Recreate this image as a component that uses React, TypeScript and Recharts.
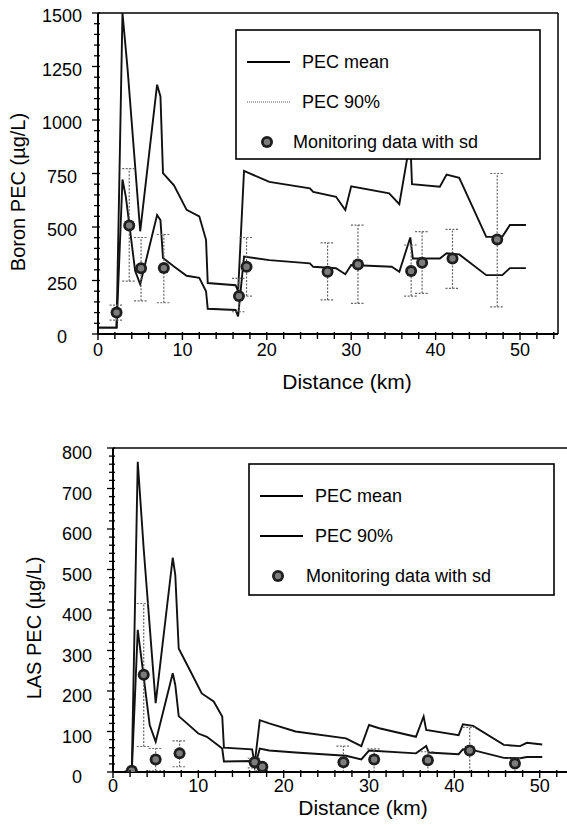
import {
  ComposedChart,
  Line,
  Scatter,
  ErrorBar,
  XAxis,
  YAxis,
  ReferenceLine,
  Legend,
} from "recharts";

const FONT = '"Liberation Sans", Arial, Helvetica, sans-serif';

// ---- Boron (top panel) ----
const boron90Km = [0, 2.2, 2.9, 3.5, 5.0, 7.0, 7.4, 7.7, 9.0, 10.5, 12.0, 12.8, 13.0, 16.3, 16.6, 17.3, 20.3, 25.1, 25.5, 28.2, 29.3, 30.0, 34.5, 35.7, 37.0, 37.2, 40.5, 41.3, 42.8, 46.0, 47.9, 48.8, 50.7];
const boron90 = [30, 30, 1500, 1240, 480, 1165, 1110, 752, 695, 580, 550, 440, 238, 228, 200, 762, 711, 681, 664, 641, 579, 690, 657, 607, 906, 700, 688, 745, 730, 454, 454, 509, 509];

const boronMeanKm = [0, 2.2, 2.9, 3.3, 4.4, 5.0, 7.0, 7.4, 7.7, 9.0, 10.5, 12.0, 12.8, 13.0, 16.3, 16.6, 17.3, 20.3, 25.1, 25.5, 28.2, 29.3, 30.0, 34.8, 35.7, 37.0, 37.3, 40.5, 41.3, 42.8, 46.0, 47.9, 48.8, 50.7];
const boronMean = [30, 30, 722, 641, 295, 232, 556, 532, 355, 315, 272, 262, 200, 118, 112, 82, 362, 345, 330, 314, 307, 279, 322, 314, 291, 451, 353, 353, 377, 372, 275, 275, 308, 308];

const boronMonKm = [2.2, 3.7, 5.1, 7.8, 16.7, 17.6, 27.2, 30.8, 37.1, 38.4, 42.0, 47.3];
const boronMon = [100, 507, 307, 308, 177, 314, 291, 325, 294, 333, 353, 442];
const boronSdLow = [35, 260, 152, 162, 73, 137, 132, 182, 117, 143, 140, 315];
const boronSdHigh = [35, 266, 144, 157, 83, 137, 135, 184, 122, 145, 136, 308];

// ---- LAS (bottom panel) ----
const las90Km = [0, 2.2, 2.9, 3.6, 5.0, 7.0, 7.3, 7.7, 9.0, 10.4, 11.8, 12.8, 13.0, 16.3, 16.6, 17.2, 18.3, 21.4, 27.3, 29.1, 30.0, 31.2, 35.5, 36.4, 36.7, 40.5, 41.0, 42.2, 45.8, 47.7, 48.5, 50.3];
const las90 = [0, 0, 766, 550, 170, 529, 486, 305, 252, 194, 174, 137, 60, 56, 20, 128, 120, 100, 83, 64, 116, 108, 87, 137, 104, 91, 118, 114, 67, 64, 72, 68];

const lasMeanKm = [0, 2.2, 2.9, 3.3, 4.3, 5.0, 7.0, 7.3, 7.7, 10.0, 11.0, 12.0, 12.8, 13.0, 16.3, 16.6, 17.2, 18.3, 21.4, 27.3, 29.1, 30.0, 35.5, 36.7, 37.0, 40.5, 41.0, 42.2, 45.8, 47.7, 48.5, 50.3];
const lasMean = [0, 0, 351, 285, 116, 75, 244, 215, 138, 95, 87, 71, 58, 26, 27, 10, 58, 53, 48, 40, 31, 53, 46, 64, 48, 44, 56, 54, 35, 34, 37, 37];

const lasMonKm = [2.2, 3.6, 5.0, 7.8, 16.6, 17.5, 27.0, 30.6, 36.9, 41.8, 47.1];
const lasMon = [3, 240, 31, 46, 24, 13, 24, 31, 29, 53, 21];
const lasSdLow = [0, 177, 28, 33, 14, 10, 24, 31, 29, 53, 21];
const lasSdHigh = [0, 176, 27, 31, 10, 5, 40, 26, 21, 57, 13];

// ticks (minor + major)
const xTicksTop = [0, 2, 4, 6, 8, 10, 12, 14, 16, 18, 20, 22, 24, 26, 28, 30, 32, 34, 36, 38, 40, 42, 44, 46, 48, 50, 52, 54];
const xTicksBottom = [0, 2, 4, 6, 8, 10, 12, 14, 16, 18, 20, 22, 24, 26, 28, 30, 32, 34, 36, 38, 40, 42, 44, 46, 48, 50, 52];
const boronYTicks = Array.from({ length: 31 }, (_, i) => i * 50);
const lasYTicks = Array.from({ length: 41 }, (_, i) => i * 20);

const toPts = (km: number[], v: number[]) => km.map((x, i) => ({ x, y: v[i] }));
const toMon = (km: number[], v: number[], lo: number[], hi: number[]) =>
  km.map((x, i) => ({ x, y: v[i], err: [lo[i], hi[i]] }));

function Marker(props: any) {
  const { cx, cy } = props;
  if (cx == null || cy == null) return null;
  return (
    <g>
      <circle cx={cx} cy={cy} r={6} fill="#1e1e1e" />
      <circle cx={cx} cy={cy} r={3.2} fill="#7c7c7c" />
    </g>
  );
}

function makeXTick(step: number, dy: number) {
  return (p: any) => {
    const { x, y, payload } = p;
    const major = payload.value % step === 0;
    return (
      <g>
        <line x1={x} x2={x} y1={y - 2} y2={y + (major ? 6 : 5)} stroke="#000" strokeWidth={1.4} />
        {major && (
          <text x={x} y={y + dy} textAnchor="middle" dominantBaseline="central" fontSize={18} fill="#000" fontFamily={FONT}>
            {payload.value}
          </text>
        )}
      </g>
    );
  };
}

function makeYTick(step: number, dy: number) {
  return (p: any) => {
    const { x, y, payload } = p;
    const major = payload.value % step === 0;
    return (
      <g>
        <line x1={x - (major ? 6 : 4)} x2={x + 2} y1={y} y2={y} stroke="#000" strokeWidth={1.3} />
        {major && (
          <text x={x - 36} y={y + dy} textAnchor="middle" dominantBaseline="central" fontSize={18} fill="#000" fontFamily={FONT}>
            {payload.value}
          </text>
        )}
      </g>
    );
  };
}

function LegendBox({ dotted, w, h, tx, mx }: { dotted: boolean; w: number; h: number; tx: number; mx: number }) {
  return (
    <svg width={w} height={h} style={{ display: "block", fontFamily: FONT }}>
      <rect x={1} y={1} width={w - 2} height={h - 2} fill="#fff" stroke="#000" strokeWidth={1.6} />
      <line x1={12} x2={55} y1={33} y2={33} stroke="#000" strokeWidth={1.8} />
      <text x={tx} y={33} dominantBaseline="central" fontSize={18}>PEC mean</text>
      <line
        x1={12}
        x2={55}
        y1={73}
        y2={73}
        stroke={dotted ? "#555" : "#000"}
        strokeWidth={dotted ? 1.2 : 1.8}
        strokeDasharray={dotted ? "1 1" : undefined}
      />
      <text x={tx} y={73} dominantBaseline="central" fontSize={18}>PEC 90%</text>
      <Marker cx={mx} cy={113} />
      <text x={tx - 9} y={113} dominantBaseline="central" fontSize={18}>Monitoring data with sd</text>
    </svg>
  );
}

export default function App() {
  const b90 = toPts(boron90Km, boron90);
  const bMean = toPts(boronMeanKm, boronMean);
  const bMon = toMon(boronMonKm, boronMon, boronSdLow, boronSdHigh);
  const l90 = toPts(las90Km, las90);
  const lMean = toPts(lasMeanKm, lasMean);
  const lMon = toMon(lasMonKm, lasMon, lasSdLow, lasSdHigh);

  return (
    <div style={{ position: "absolute", left: 0, top: 0, width: 567, height: 825, background: "#fff", fontFamily: FONT }}>
      {/* Boron */}
      <div style={{ position: "absolute", left: 0, top: 0 }}>
        <ComposedChart width={567} height={400} margin={{ top: 13, right: 9, bottom: 0, left: 0 }}>
          <XAxis
            type="number"
            dataKey="x"
            domain={[0, 54.5]}
            ticks={xTicksTop}
            interval={0}
            tickSize={0}
            tickMargin={0}
            tickLine={false}
            tick={makeXTick(10, 16)}
            axisLine={{ stroke: "#000", strokeWidth: 2 }}
            height={66}
            allowDataOverflow
            label={() => (
              <text x={347} y={389} textAnchor="middle" fontSize={21} fill="#000" fontFamily={FONT}>
                Distance (km)
              </text>
            )}
          />
          <YAxis
            type="number"
            dataKey="y"
            domain={[0, 1500]}
            ticks={boronYTicks}
            interval={0}
            tickSize={0}
            tickMargin={0}
            tickLine={false}
            tick={makeYTick(250, 3)}
            axisLine={{ stroke: "#000", strokeWidth: 2 }}
            width={98}
            allowDataOverflow
            label={() => (
              <text x={25} y={192} transform="rotate(-90, 25, 192)" textAnchor="middle" fontSize={20} fill="#000" fontFamily={FONT}>
                Boron PEC (µg/L)
              </text>
            )}
          />
          <ReferenceLine y={1500} stroke="#000" strokeWidth={1.5} />
          <ReferenceLine x={54.5} stroke="#000" strokeWidth={1.5} />
          <Line data={b90} dataKey="y" type="linear" stroke="#111" strokeWidth={1.9} dot={false} isAnimationActive={false} />
          <Line data={bMean} dataKey="y" type="linear" stroke="#111" strokeWidth={1.9} dot={false} isAnimationActive={false} />
          <Scatter data={bMon} dataKey="y" shape={Marker} isAnimationActive={false}>
            <ErrorBar dataKey="err" direction="y" width={7} stroke="#666" strokeWidth={1.2} strokeDasharray="2 1.5" isAnimationActive={false} />
          </Scatter>
          <Legend
            layout="vertical"
            verticalAlign="middle"
            align="center"
            wrapperStyle={{ position: "absolute", left: 235, top: 29, width: 306, height: 131 }}
            content={() => <LegendBox dotted w={306} h={131} tx={67} mx={32} />}
          />
        </ComposedChart>
      </div>

      {/* LAS */}
      <div style={{ position: "absolute", left: 0, top: 425 }}>
        <ComposedChart width={567} height={400} margin={{ top: 23, right: 0, bottom: 0, left: 0 }}>
          <XAxis
            type="number"
            dataKey="x"
            domain={[0, 53.2]}
            ticks={xTicksBottom}
            interval={0}
            tickSize={0}
            tickMargin={0}
            tickLine={false}
            tick={makeXTick(10, 14)}
            axisLine={{ stroke: "#000", strokeWidth: 2 }}
            height={53}
            allowDataOverflow
            label={() => (
              <text x={363} y={390} textAnchor="middle" fontSize={21} fill="#000" fontFamily={FONT}>
                Distance (km)
              </text>
            )}
          />
          <YAxis
            type="number"
            dataKey="y"
            domain={[0, 800]}
            ticks={lasYTicks}
            interval={0}
            tickSize={0}
            tickMargin={0}
            tickLine={false}
            tick={makeYTick(100, 5)}
            axisLine={{ stroke: "#000", strokeWidth: 2 }}
            width={113}
            allowDataOverflow
            label={() => (
              <text x={41} y={203} transform="rotate(-90, 41, 203)" textAnchor="middle" fontSize={20} fill="#000" fontFamily={FONT}>
                LAS PEC (µg/L)
              </text>
            )}
          />
          <ReferenceLine y={800} stroke="#000" strokeWidth={1.5} />
          <Line data={l90} dataKey="y" type="linear" stroke="#111" strokeWidth={1.9} dot={false} isAnimationActive={false} />
          <Line data={lMean} dataKey="y" type="linear" stroke="#111" strokeWidth={1.9} dot={false} isAnimationActive={false} />
          <Scatter data={lMon} dataKey="y" shape={Marker} isAnimationActive={false}>
            <ErrorBar dataKey="err" direction="y" width={7} stroke="#666" strokeWidth={1.2} strokeDasharray="2 1.5" isAnimationActive={false} />
          </Scatter>
          <Legend
            layout="vertical"
            verticalAlign="middle"
            align="center"
            wrapperStyle={{ position: "absolute", left: 248, top: 38, width: 307, height: 133 }}
            content={() => <LegendBox dotted={false} w={307} h={133} tx={67} mx={30} />}
          />
        </ComposedChart>
      </div>
    </div>
  );
}
